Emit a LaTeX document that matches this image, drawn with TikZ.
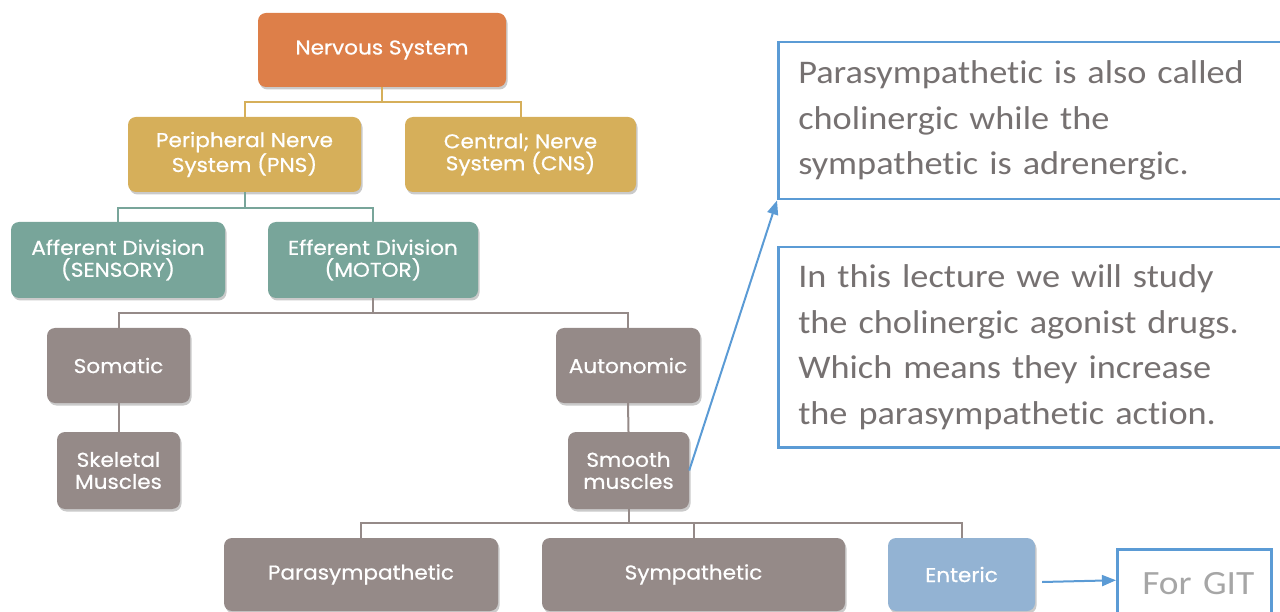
\documentclass[tikz,border=0pt]{standalone}
\usepackage{fontspec}
\usetikzlibrary{shadows,arrows.meta}
\newfontfamily\gothic[FakeStretch=1.08,FakeBold=0.6]{Poppins}
\newfontfamily\calib[FakeStretch=1.1,WordSpace=0.8,Ligatures=NoCommon]{Carlito}
\definecolor{orangeC}{HTML}{DD7F49}
\definecolor{goldC}{HTML}{D6AF5A}
\definecolor{tealC}{HTML}{78A59A}
\definecolor{greyC}{HTML}{958A88}
\definecolor{blueC}{HTML}{93B3D3}
\definecolor{lineBlue}{HTML}{5B9BD5}
\definecolor{noteText}{HTML}{767171}
\definecolor{gitText}{HTML}{A6A6A6}
\tikzset{
  orgbox/.style={rounded corners=8pt, inner sep=0pt, align=center, text=white,
    font=\gothic\fontsize{20}{22}\selectfont,
    drop shadow={shadow xshift=1.5pt, shadow yshift=-2.5pt, opacity=0.35, fill=black!60}},
  orangebox/.style={orgbox, fill=orangeC},
  goldbox/.style={orgbox, fill=goldC},
  tealbox/.style={orgbox, fill=tealC},
  greybox/.style={orgbox, fill=greyC},
  bluebox/.style={orgbox, fill=blueC},
  goldline/.style={draw=goldC, line width=2pt},
  tealline/.style={draw=tealC, line width=2pt},
  greyline/.style={draw=greyC, line width=2pt},
  notebox/.style={draw=lineBlue, line width=2.5pt, inner sep=0pt, text=noteText,
    font=\calib\fontsize{33}{45.5}\selectfont, align=left},
  bluearrow/.style={draw=lineBlue, line width=2pt, -{Triangle[length=14pt,width=11pt]}},
}
\begin{document}
\begin{tikzpicture}[x=1pt,y=-1pt]
\useasboundingbox (0,0) rectangle (1280,612);
\clip (0,0) rectangle (1280,612);
% org chart boxes
\node[orangebox, minimum width=248pt, minimum height=74pt] (ns) at (382,50) {Nervous System};
\node[goldbox, minimum width=233pt, minimum height=75pt] (pns) at (244.5,154.5) {Peripheral Nerve\\System (PNS)};
\node[goldbox, minimum width=231pt, minimum height=75pt] (cns) at (520.5,154.5) {Central; Nerve\\System (CNS)};
\node[tealbox, minimum width=214pt, minimum height=76pt] (aff) at (118,260) {Afferent Division\\(SENSORY)};
\node[tealbox, minimum width=210pt, minimum height=76pt] (eff) at (373,260) {Efferent Division\\(MOTOR)};
\node[greybox, minimum width=143pt, minimum height=75pt] (som) at (118.5,365.5) {Somatic};
\node[greybox, minimum width=123pt, minimum height=77pt] (skel) at (118.5,470.5) {Skeletal\\Muscles};
\node[greybox, minimum width=144pt, minimum height=75pt] (auto) at (628,365.5) {Autonomic};
\node[greybox, minimum width=121pt, minimum height=77pt] (smooth) at (628.5,470.5) {Smooth\\muscles};
\node[greybox, minimum width=274pt, minimum height=73pt] (para) at (361,574.5) {Parasympathetic};
\node[greybox, minimum width=303pt, minimum height=73pt] (symp) at (693.5,574.5) {Sympathetic};
\node[bluebox, minimum width=147pt, minimum height=73pt] (ent) at (961.5,574.5) {Enteric};
% connectors
\draw[goldline] (ns.south) -- (ns.south |- 0,102) -| (pns.north);
\draw[goldline] (ns.south |- 0,102) -| (cns.north);
\draw[tealline] (pns.south) -- (pns.south |- 0,208) -| (aff.north);
\draw[tealline] (pns.south |- 0,208) -| (eff.north);
\draw[greyline] (eff.south) -- (eff.south |- 0,313) -| (som.north);
\draw[greyline] (eff.south |- 0,313) -| (auto.north);
\draw[greyline] (som.south) -- (skel.north);
\draw[greyline] (auto.south) -- (smooth.north);
\draw[greyline] (smooth.south) -- (smooth.south |- 0,523) -| (para.north);
\draw[greyline] (smooth.south |- 0,523) -| (symp.north);
\draw[greyline] (smooth.south |- 0,523) -| (ent.north);
% notes
\node[notebox, anchor=north west, minimum width=520pt, minimum height=157pt,
      text width=480pt, inner xsep=19pt] (note1) at (777,41)
  {Parasympathetic is also called\\cholinergic while the\\sympathetic is adrenergic.};
\node[notebox, anchor=north west, minimum width=520pt, minimum height=200pt,
      text width=480pt, inner xsep=19pt] (note2) at (777,246)
  {In this lecture we will study\\the cholinergic agonist drugs.\\Which means they increase\\the parasympathetic action.};
\node[notebox, anchor=north west, minimum width=154pt, minimum height=76pt,
      text=gitText, font=\calib\fontsize{34}{40}\selectfont, text width=140pt,
      inner xsep=0pt, align=left] (git) at (1116,548) {\raisebox{7pt}{\hspace*{18pt}For GIT}};
% arrows
\draw[bluearrow] (smooth.east) -- (note1.south west);
\draw[bluearrow] ([xshift=7pt,yshift=-7.5pt]ent.east) -- ([yshift=7pt]git.west);
\end{tikzpicture}
\end{document}
